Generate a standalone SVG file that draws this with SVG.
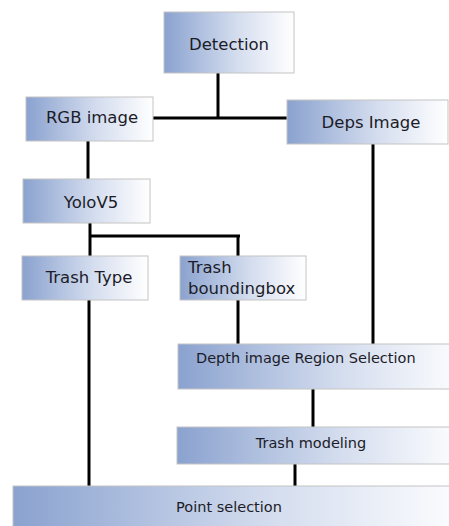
<svg xmlns="http://www.w3.org/2000/svg" width="449" height="526" viewBox="0 0 449 526">
<defs>
<linearGradient id="g" x1="0" y1="0" x2="1" y2="0">
<stop offset="0" stop-color="#8aa2cf"/>
<stop offset="0.55" stop-color="#d3dcee"/>
<stop offset="1" stop-color="#ffffff"/>
</linearGradient>
</defs>
<style>
.box{fill:url(#g);stroke:#c4c4c4;stroke-width:1}
.t{font-family:"DejaVu Sans",sans-serif;font-size:16.5px;fill:#1c1c28}
.s{font-family:"DejaVu Sans",sans-serif;font-size:14.5px;fill:#1c1c28}
.c{text-anchor:middle}
.ln{stroke:#000;stroke-width:3;fill:none}
</style>
<g id="connectors">
<line class="ln" x1="218" y1="73" x2="218" y2="118"/>
<line class="ln" x1="153" y1="118" x2="287" y2="118"/>
<line class="ln" x1="88" y1="141" x2="88" y2="179"/>
<line class="ln" x1="373" y1="144" x2="373" y2="344"/>
<line class="ln" x1="90" y1="223" x2="90" y2="256"/>
<line class="ln" x1="90" y1="236" x2="240" y2="236"/>
<line class="ln" x1="238" y1="236" x2="238" y2="256"/>
<line class="ln" x1="89" y1="300" x2="89" y2="486"/>
<line class="ln" x1="238" y1="300" x2="238" y2="344"/>
<line class="ln" x1="313" y1="389" x2="313" y2="427"/>
<line class="ln" x1="295" y1="464" x2="295" y2="486"/>
</g>
<g id="detection">
<rect class="box" x="164" y="12" width="130" height="61"/>
<text class="t c" x="229" y="50">Detection</text>
</g>
<g id="rgb">
<rect class="box" x="26" y="97" width="127" height="44"/>
<text class="t c" x="92" y="123">RGB image</text>
</g>
<g id="deps">
<rect class="box" x="287" y="100" width="161" height="44"/>
<text class="t c" x="371" y="128">Deps Image</text>
</g>
<g id="yolo">
<rect class="box" x="23" y="179" width="127" height="44"/>
<text class="t c" x="91" y="208">YoloV5</text>
</g>
<g id="trashtype">
<rect class="box" x="22" y="256" width="126" height="44"/>
<text class="t c" x="89" y="283">Trash Type</text>
</g>
<g id="bbox">
<rect class="box" x="180" y="256" width="126" height="44"/>
<text class="t" x="188" y="273">Trash</text>
<text class="t" x="188" y="294">boundingbox</text>
</g>
<g id="region">
<rect class="box" x="178" y="344" width="290" height="45"/>
<text class="s" x="196" y="363">Depth image Region Selection</text>
</g>
<g id="modeling">
<rect class="box" x="177" y="427" width="290" height="37"/>
<text class="s c" x="311" y="448">Trash modeling</text>
</g>
<g id="point">
<rect class="box" x="13" y="486" width="460" height="50"/>
<text class="s c" x="229" y="512">Point selection</text>
</g>
</svg>
